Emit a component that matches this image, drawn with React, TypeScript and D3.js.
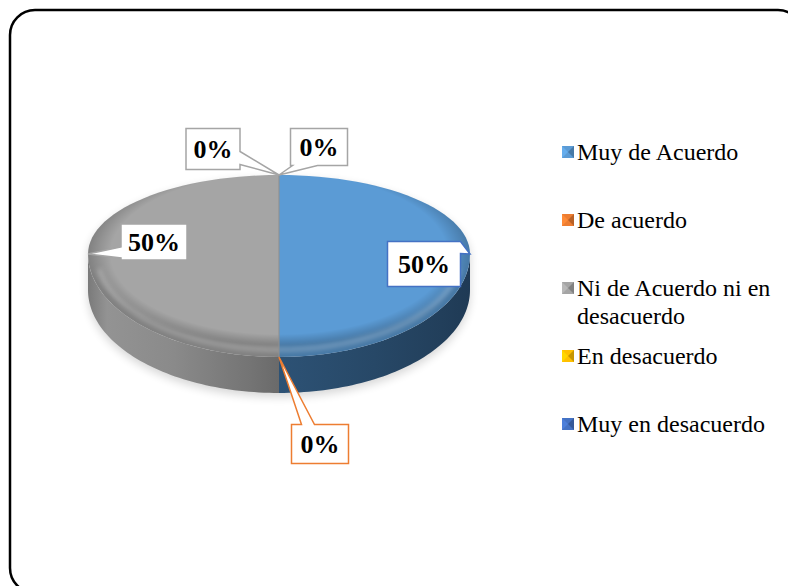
import React, { useEffect, useRef } from 'react';
import * as d3 from 'd3';

const categories = ["Muy de Acuerdo", "De acuerdo", "Ni de Acuerdo ni en desacuerdo", "En desacuerdo", "Muy en desacuerdo"];
const values = [50, 0, 50, 0, 0];
const labels = ["50%", "0%", "50%", "0%", "0%"];
const legendLines = [["Muy de Acuerdo"], ["De acuerdo"], ["Ni de Acuerdo ni en", "desacuerdo"], ["En desacuerdo"], ["Muy en desacuerdo"]];
const colors = ["#5B9BD5", "#ED7D31", "#A5A5A5", "#FFC000", "#4472C4"];

// callout layout: box offset from anchor, size, side where the pointer leaves, pointer base
const callouts = [
  { dx: -46, dy: 10, w: 73, h: 45, side: "right", t0: 0, t1: 12, border: "#4472C4" },
  { dx: 41, dy: 87, w: 57, h: 39, side: "top", t0: 10, t1: 23, border: "#ED7D31" },
  { dx: 66, dy: -12, w: 66, h: 36, side: "left", t0: 23, t1: 34, border: "#A5A5A5" },
  { dx: -66, dy: -26, w: 54, h: 41, side: "right", t0: 23, t1: 36, border: "#A5A5A5" },
  { dx: 40, dy: -28, w: 57, h: 37, side: "bottom", t0: 2, t1: 27, border: "#A5A5A5" },
];

const W = 788, H = 586;
const FONT = "'Times New Roman', 'Liberation Serif', Tinos, serif";

const App = () => {
  const ref = useRef(null);

  useEffect(() => {
    const svg = d3.select(ref.current);
    svg.selectAll("*").remove();

    const cx = 279, cy = 254, rx = 191, ryTop = 79, ryBot = 103, depth = 36;
    const pt = (a) => [cx + rx * Math.sin(a), cy - (Math.cos(a) >= 0 ? ryTop : ryBot) * Math.cos(a)];
    const arcPts = (a0, a1) => d3.range(0, 61).map((i) => pt(a0 + (a1 - a0) * i / 60));
    const line = d3.line();

    const pie = d3.pie().sort(null).startAngle(0).endAngle(Math.PI * 2);
    const arcs = pie(values);

    const defs = svg.append("defs");
    defs.append("filter").attr("id", "blur").attr("x", "-20%").attr("y", "-20%").attr("width", "140%").attr("height", "140%")
      .append("feGaussianBlur").attr("stdDeviation", 5);
    defs.append("filter").attr("id", "blur2")
      .append("feGaussianBlur").attr("stdDeviation", 2.5);

    // side gradients
    const g1 = defs.append("linearGradient").attr("id", "side0").attr("gradientUnits", "userSpaceOnUse")
      .attr("x1", cx).attr("x2", cx + rx).attr("y1", 0).attr("y2", 0);
    [[0, "#2d5275"], [0.5, "#274867"], [0.85, "#223f5b"], [1, "#1f3a55"]].forEach(([o, c]) =>
      g1.append("stop").attr("offset", o).attr("stop-color", c));
    const g2 = defs.append("linearGradient").attr("id", "side2").attr("gradientUnits", "userSpaceOnUse")
      .attr("x1", cx - rx).attr("x2", cx).attr("y1", 0).attr("y2", 0);
    [[0, "#7a7a7a"], [0.1, "#939393"], [0.45, "#8a8a8a"], [0.85, "#747474"], [1, "#6a6a6a"]].forEach(([o, c]) =>
      g2.append("stop").attr("offset", o).attr("stop-color", c));
    const rim = defs.append("radialGradient").attr("id", "rim").attr("gradientUnits", "userSpaceOnUse")
      .attr("cx", cx).attr("cy", cy).attr("r", rx)
      .attr("gradientTransform", `translate(${cx},${cy}) scale(1,${(ryTop + ryBot) / 2 / rx}) translate(${-cx},${-cy})`);
    [[0, 0], [0.88, 0], [1, 0.22]].forEach(([o, a]) =>
      rim.append("stop").attr("offset", o).attr("stop-color", "#000").attr("stop-opacity", a));

    // frame
    svg.append("rect").attr("x", 10).attr("y", 10).attr("width", 793).attr("height", 583).attr("rx", 25)
      .attr("fill", "#fff").attr("stroke", "#000").attr("stroke-width", 2.5);

    // shadow
    const full = arcPts(0, Math.PI * 2);
    svg.append("path")
      .attr("d", line(arcPts(Math.PI / 2, Math.PI * 1.5).map(([x, y]) => [x, y + depth + 4])
        .concat(arcPts(Math.PI * 1.5, Math.PI * 2.5).map(([x, y]) => [x, y + 4]))) + "Z")
      .attr("fill", "#000").attr("opacity", 0.16).attr("filter", "url(#blur)");

    // side walls
    arcs.forEach((d, i) => {
      const a0 = Math.max(d.startAngle, Math.PI / 2), a1 = Math.min(d.endAngle, Math.PI * 1.5);
      if (a1 - a0 <= 0) return;
      const top = arcPts(a0, a1);
      const bottom = top.map(([x, y]) => [x, y + depth]).reverse();
      svg.append("path").attr("d", line([...top, ...bottom]) + "Z")
        .attr("fill", i === 0 ? "url(#side0)" : i === 2 ? "url(#side2)" : d3.color(colors[i]).darker(1));
    });

    // top faces
    arcs.forEach((d, i) => {
      if (d.endAngle - d.startAngle <= 0) return;
      svg.append("path").attr("d", line([[cx, cy], ...arcPts(d.startAngle, d.endAngle)]) + "Z")
        .attr("fill", colors[i]);
    });
    svg.append("path").attr("d", line(full) + "Z").attr("fill", "url(#rim)");
    // bevel highlight along the front rim
    svg.append("path")
      .attr("d", line(d3.range(0, 41).map((k) => {
        const a = Math.PI * 0.55 + Math.PI * 0.9 * k / 40;
        const [x, y] = pt(a);
        return [cx + (x - cx) * 0.955, cy + (y - cy) * 0.93];
      })))
      .attr("fill", "none").attr("stroke", "#fff").attr("stroke-opacity", 0.35).attr("stroke-width", 3)
      .attr("filter", "url(#blur2)");
    // slice divider
    svg.append("line").attr("x1", cx).attr("x2", cx).attr("y1", pt(0)[1]).attr("y2", pt(Math.PI)[1])
      .attr("stroke", "#8f8f8f").attr("stroke-width", 1.5).attr("opacity", 0.7);

    // callouts
    const callout = (x0, y0, w, h, side, t0, t1, tip) => {
      const p = [[x0, y0]];
      if (side === "top") p.push([x0 + t0, y0], tip, [x0 + t1, y0]);
      p.push([x0 + w, y0]);
      if (side === "right") p.push([x0 + w, y0 + t0], tip, [x0 + w, y0 + t1]);
      p.push([x0 + w, y0 + h]);
      if (side === "bottom") p.push([x0 + t1, y0 + h], tip, [x0 + t0, y0 + h]);
      p.push([x0, y0 + h]);
      if (side === "left") p.push([x0, y0 + t1], tip, [x0, y0 + t0]);
      return line(p) + "Z";
    };
    arcs.forEach((d, i) => {
      const c = callouts[i];
      const mid = (d.startAngle + d.endAngle) / 2;
      const tip = pt(mid);
      const bx = tip[0] + c.dx, by = tip[1] + c.dy;
      const x0 = bx - c.w / 2, y0 = by - c.h / 2;
      svg.append("path").attr("d", callout(x0, y0, c.w, c.h, c.side, c.t0, c.t1, tip))
        .attr("fill", "#fff").attr("stroke", c.border).attr("stroke-width", 1.5).attr("stroke-linejoin", "miter");
      svg.append("text").attr("x", bx).attr("y", by).attr("dy", "0.35em").attr("text-anchor", "middle")
        .attr("font-family", FONT).attr("font-weight", "bold")
        .attr("font-size", 26).attr("fill", "#000").text(labels[i]);
    });

    // legend
    const lg = svg.append("g").attr("font-family", FONT).attr("font-size", 24);
    let y = 152;
    categories.forEach((cat, i) => {
      const item = lg.append("g").attr("transform", `translate(562,${y})`);
      item.append("rect").attr("x", 0).attr("y", -6).attr("width", 12).attr("height", 12).attr("fill", colors[i]);
      item.append("path").attr("d", "M0,-6L6,0L0,6Z").attr("fill", d3.color(colors[i]).brighter(0.3).toString());
      item.append("path").attr("d", "M12,-6L6,0L12,6Z").attr("fill", d3.color(colors[i]).darker(0.7).toString());
      legendLines[i].forEach((t, k) => {
        item.append("text").attr("x", 15).attr("y", k * 28).attr("dy", "0.35em").attr("fill", "#000").text(t);
      });
      y += 68;
    });
  }, []);

  return (
    <svg ref={ref} width={W} height={H} style={{ position: "absolute", left: 0, top: 0, display: "block" }} />
  );
};

export default App;
